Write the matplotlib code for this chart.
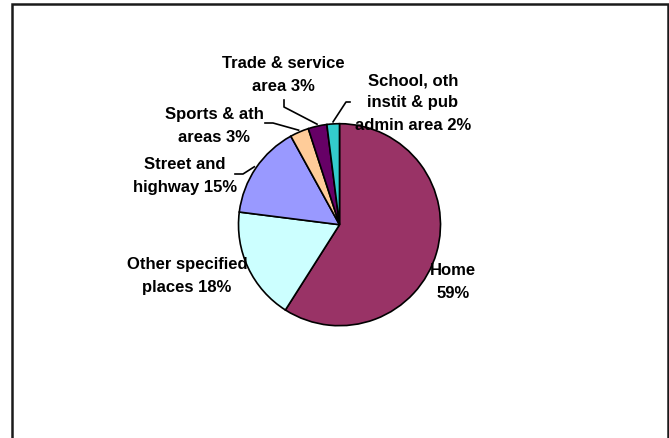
import matplotlib
matplotlib.use("Agg")
import matplotlib.pyplot as plt
import numpy as np
from matplotlib.patches import Rectangle

# Place of occurrence shares (percent)
categories = ["Home", "Other specified places", "Street and highway",
              "Sports & ath areas", "Trade & service area",
              "School, oth instit & pub admin area"]
values = [59, 18, 15, 3, 3, 2]
label_names = ["Home\n", "Other specified\nplaces ", "Street and\nhighway ",
               "Sports & ath\nareas ", "Trade & service\narea ",
               "School, oth\ninstit & pub\nadmin area "]
colors = ["#993366", "#CCFFFF", "#9999FF", "#FFCC99", "#660066", "#33CCCC"]

# Canvas in pixel units (origin at top-left for layout values)
W, H = 669, 438
cx, cy, radius = 339.5, 224.7, 101

# Label centres and leader-line start/elbow points (pixel layout)
label_pos = [(453, 282), (187, 276), (185, 176), (214, 126), (283, 75), (413, 103)]
leader_pts = [None, None,
              [(235, 174), (243, 174)],
              [(265, 123), (273, 123)],
              [(284, 100), (284, 107)],
              [(350, 102), (346, 102)]]

fig = plt.figure(figsize=(W / 100, H / 100), dpi=100)
ax = fig.add_axes([0, 0, 1, 1])

wedges, _ = ax.pie(values, colors=colors, startangle=90, counterclock=False,
                   center=(cx, H - cy), radius=radius,
                   wedgeprops=dict(edgecolor="black", linewidth=1.2))

ax.set_xlim(0, W)
ax.set_ylim(0, H)
ax.set_aspect("equal")
ax.axis("off")

for w, name, v, pos, pts in zip(wedges, label_names, values, label_pos, leader_pts):
    ax.text(pos[0], H - pos[1], f"{name}{v}%", ha="center", va="center",
            fontsize=12, fontweight="bold", family="Liberation Sans",
            linespacing=1.62, multialignment="center", zorder=5)
    if pts is not None:
        mid = np.deg2rad((w.theta1 + w.theta2) / 2)
        ex = cx + radius * 1.02 * np.cos(mid)
        ey = (H - cy) + radius * 1.02 * np.sin(mid)
        xs = [p[0] for p in pts] + [ex]
        ys = [H - p[1] for p in pts] + [ey]
        ax.plot(xs, ys, color="black", linewidth=1.2, zorder=4)

# Chart border
ax.add_patch(Rectangle((12, -20), 655.5, 454, fill=False,
                       edgecolor="#1a1a1a", linewidth=1.8, clip_on=False))

fig.savefig("out.png", dpi=100)
